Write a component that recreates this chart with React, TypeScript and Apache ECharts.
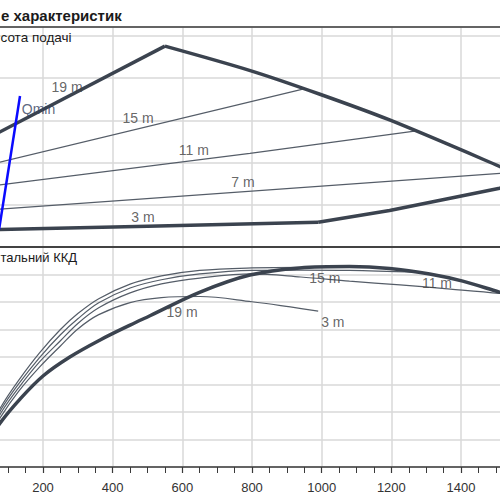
import React, { useEffect, useRef } from "react";
import * as echarts from "echarts";

// ---- axis ticks ----
const xTickLabels = ["200", "400", "600", "800", "1000", "1200", "1400"];

// ---- upper panel: head curves (Q, H) ----
const h19Q = [0, 550];
const h19H = [12.0, 23.8];
const h15Q = [0, 946];
const h15H = [9.3, 18.7];
const h11Q = [0, 794, 1272];
const h11H = [6.95, 11.1, 13.75];
const h7Q = [0, 1551];
const h7H = [4.27, 8.85];
const h3Q = [0, 500, 990];
const h3H = [2.0, 2.45, 2.93];
const maxQ = [550, 795, 995, 1195, 1511, 1600];
const maxH = [23.8, 20.9, 18.1, 15.05, 9.55, 7.9];
const limQ = [990, 1195, 1511, 1600];
const limH = [2.93, 4.33, 6.96, 7.9];
const qminQ = [74, 134];
const qminH = [2.1, 17.9];

// ---- lower panel: efficiency curves (Q, %) ----
const e19Q = [0, 40, 77, 134, 200, 277, 364, 450, 507, 651, 794, 937, 1080, 1195, 1310, 1405, 1510, 1550, 1600];
const e19 = [0, 8.3, 16.0, 24.7, 33.1, 40.0, 46.2, 51.6, 55.0, 63.6, 69.8, 72.4, 72.9, 72.2, 70.2, 67.6, 63.6, 62.2, 59];
const e15Q = [0, 40, 80, 130, 190, 250, 300, 360, 450, 540, 650, 800, 946];
const e15 = [0, 12, 22, 31.5, 41.5, 50, 55.8, 61.2, 66.5, 69.5, 71.5, 72.4, 72.6];
const e11Q = [0, 40, 80, 130, 190, 250, 300, 360, 450, 540, 650, 800, 940, 1080, 1273];
const e11 = [0, 11, 21, 30.2, 39.8, 48.1, 53.9, 59.7, 65.1, 68.1, 70.2, 71.5, 71.6, 71.5, 70.8];
const e7Q = [0, 40, 80, 130, 190, 250, 300, 360, 450, 540, 650, 800, 940, 1080, 1225, 1370, 1511, 1550];
const e7 = [0, 10, 19.8, 28.8, 38.2, 45.9, 52.2, 57.9, 63.3, 66.6, 68.7, 70.2, 69.1, 67.6, 66.2, 64.7, 63.1, 62.3];
const e3Q = [0, 40, 80, 130, 190, 250, 300, 360, 450, 540, 650, 800, 910, 990];
const e3 = [0, 9.5, 18.5, 27.5, 36.3, 44, 50.2, 55.4, 59.8, 61.6, 62.0, 60.1, 58.2, 56.7];

// ---- curve labels ----
const topLabelNames = ["19 m", "15 m", "11 m", "7 m", "3 m"];
const topLabelQ = [269, 473, 633, 774, 487];
const topLabelH = [18.96, 15.3, 11.5, 7.7, 3.56];
const qminLabel = { name: "Qmin", q: 187, h: 16.4 };
const botLabelNames = ["19 m", "15 m", "11 m", "3 m"];
const botLabelQ = [599, 1009, 1331, 1032];
const botLabelE = [56.4, 68.7, 66.9, 52.7];

const zip = (a: number[], b: number[]) => a.map((v, i) => [v, b[i]]);

const THICK = "#3b434f";
const THIN = "#555d68";
const FONT = "Liberation Sans";

function line(name: string, q: number[], v: number[], axis: number, thick: boolean, smooth: number | false = false, color?: string) {
  return {
    type: "line",
    name,
    xAxisIndex: axis,
    yAxisIndex: axis,
    data: zip(q, v),
    showSymbol: false,
    symbol: "none",
    smooth,
    silent: true,
    lineStyle: { color: color || (thick ? THICK : THIN), width: thick ? 3.5 : 1.2 },
    z: thick ? 3 : 2,
  };
}

export default function App() {
  const ref = useRef<HTMLDivElement>(null);
  useEffect(() => {
    const chart = echarts.init(ref.current!, null, { renderer: "svg" });
    const gridLine = { show: true, lineStyle: { color: "#d9d9d9", width: 1.5 } };
    const xBase = { type: "value", min: 0, max: 1600, interval: 200 };
    const labelStyle = { show: true, position: "inside", formatter: "{b}", color: "#404040", fontSize: 14, fontFamily: FONT };
    const option = {
      animation: false,
      backgroundColor: "#ffffff",
      grid: [
        { left: 73.33, right: 69.33, top: 27, height: 220 },
        { left: 73.33, right: 69.33, top: 247, height: 220 },
      ],
      xAxis: [
        {
          ...xBase,
          gridIndex: 0,
          axisLine: { show: true, lineStyle: { color: "#3a3a3a", width: 1.5 } },
          axisTick: { show: false },
          axisLabel: { show: false },
          splitLine: gridLine,
        },
        {
          ...xBase,
          gridIndex: 1,
          axisLine: { show: true, lineStyle: { color: "#3a3a3a", width: 1.5 } },
          axisTick: { show: true, length: 6, lineStyle: { color: "#3a3a3a", width: 1.2 } },
          minorTick: { show: true, splitNumber: 4, length: 6, lineStyle: { color: "#3a3a3a", width: 1 } },
          axisLabel: {
            fontSize: 13,
            fontFamily: FONT,
            color: "#333",
            margin: 14,
            formatter: (v: number) => (xTickLabels.includes(String(v)) ? String(v) : ""),
          },
          splitLine: gridLine,
        },
      ],
      yAxis: [
        {
          type: "value",
          gridIndex: 0,
          min: 0,
          max: 26.07,
          interval: 5,
          axisLine: { show: false },
          axisTick: { show: false },
          axisLabel: { show: false },
          splitLine: gridLine,
        },
        {
          type: "value",
          gridIndex: 1,
          min: 0,
          max: 80,
          interval: 10,
          axisLine: { show: false },
          axisTick: { show: false },
          axisLabel: { show: false },
          splitLine: gridLine,
        },
      ],
      graphic: [
        { type: "line", shape: { x1: 0, y1: 27, x2: 700, y2: 27 }, style: { stroke: "#3a3a3a", lineWidth: 1.5 }, z: 100 },
        { type: "line", shape: { x1: 0, y1: 247, x2: 700, y2: 247 }, style: { stroke: "#3a3a3a", lineWidth: 1.5 }, z: 100 },
        {
          type: "text",
          x: 101,
          y: 15,
          style: { text: "е характеристик", fontSize: 15, fontWeight: "bold", fontFamily: FONT, fill: "#1a1a1a", textAlign: "left", textVerticalAlign: "middle" },
          z: 100,
        },
        {
          type: "text",
          x: 100.5,
          y: 37,
          style: { text: "сота подачі", fontSize: 13.5, fontFamily: FONT, fill: "#1a1a1a", textAlign: "left", textVerticalAlign: "middle" },
          z: 100,
        },
        {
          type: "text",
          x: 100.5,
          y: 257,
          style: { text: "тальний ККД", fontSize: 13, fontFamily: FONT, fill: "#1a1a1a", textAlign: "left", textVerticalAlign: "middle" },
          z: 100,
        },
      ],
      series: [
        line("H 15 m", h15Q, h15H, 0, false),
        line("H 11 m", h11Q, h11H, 0, false),
        line("H 7 m", h7Q, h7H, 0, false),
        line("H 19 m", h19Q, h19H, 0, true),
        line("H 3 m", h3Q, h3H, 0, true),
        line("H max", maxQ, maxH, 0, true, 0.3),
        line("H limit", limQ, limH, 0, true),
        { ...line("Qmin", qminQ, qminH, 0, true, false, "#0a0aff"), lineStyle: { color: "#0a0aff", width: 2.5 }, z: 4 },
        line("E 15 m", e15Q, e15, 1, false, 0.35),
        line("E 11 m", e11Q, e11, 1, false, 0.35),
        line("E 7 m", e7Q, e7, 1, false, 0.35),
        line("E 3 m", e3Q, e3, 1, false, 0.35),
        line("E 19 m", e19Q, e19, 1, true, 0.35),
        {
          type: "scatter",
          xAxisIndex: 0,
          yAxisIndex: 0,
          symbolSize: 1,
          silent: true,
          itemStyle: { color: "rgba(0,0,0,0)" },
          label: labelStyle,
          z: 10,
          data: [
            ...topLabelNames.map((n, i) => ({ name: n, value: [topLabelQ[i], topLabelH[i]] })),
            { name: qminLabel.name, value: [qminLabel.q, qminLabel.h], label: { ...labelStyle, color: "#33415e" } },
          ],
        },
        {
          type: "scatter",
          xAxisIndex: 1,
          yAxisIndex: 1,
          symbolSize: 1,
          silent: true,
          itemStyle: { color: "rgba(0,0,0,0)" },
          label: labelStyle,
          z: 10,
          data: botLabelNames.map((n, i) => ({ name: n, value: [botLabelQ[i], botLabelE[i]] })),
        },
      ],
    };
    chart.setOption(option as any);
    return () => chart.dispose();
  }, []);
  return (
    <div style={{ position: "fixed", left: 0, top: 0, width: 500, height: 500, overflow: "hidden", background: "#fff" }}>
      <div ref={ref} style={{ position: "absolute", left: -100, top: 0, width: 700, height: 500 }} />
    </div>
  );
}
